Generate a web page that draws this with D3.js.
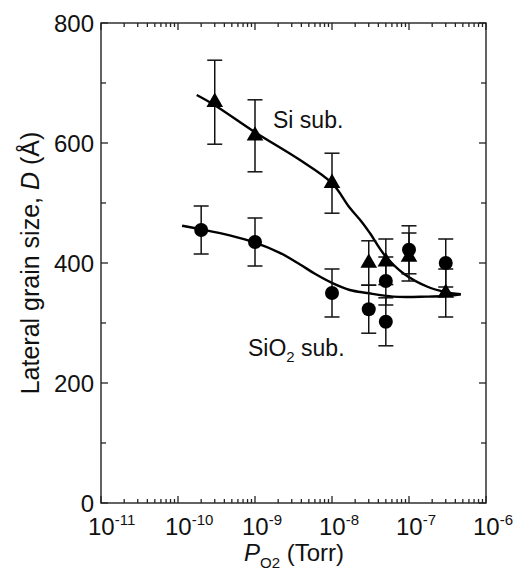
<!DOCTYPE html>
<html>
<head>
<meta charset="utf-8">
<script src="https://cdn.jsdelivr.net/npm/d3@7"></script>
<style>
  body { margin: 0; background: #fff; }
  text { font-family: "Liberation Sans", Arial, Helvetica, sans-serif; fill: #111; }
</style>
</head>
<body>
<div class="svg-container"></div>
<script>
// data
const siPressure = [3e-10, 1e-9, 1e-8, 3e-8, 5e-8, 1e-7, 3e-7];
const siSize = [668, 612, 533, 400, 402, 410, 350];
const siErr = [70, 60, 50, 37, 38, 40, 40];

const sio2Pressure = [2e-10, 1e-9, 1e-8, 3e-8, 5e-8, 5e-8, 1e-7, 3e-7];
const sio2Size = [455, 435, 350, 323, 302, 370, 422, 400];
const sio2Err = [40, 40, 40, 40, 40, 40, 40, 40];

// fitted guide curves
const siFitP = [1.75e-10, 3e-10, 1e-9, 3.8e-9, 1e-8, 1.7e-8, 2.45e-8, 3.1e-8, 4.9e-8, 8.4e-8, 1.77e-7, 2.9e-7, 4.7e-7];
const siFitD = [680, 663, 618, 572, 533, 492, 468, 450, 412, 383, 360, 352, 348];
const sio2FitP = [1.13e-10, 2e-10, 4.7e-10, 1e-9, 2.1e-9, 3.8e-9, 6e-9, 1.03e-8, 1.7e-8, 2.85e-8, 6.2e-8, 1.7e-7, 2.9e-7, 4.7e-7];
const sio2FitD = [462, 456, 446, 434, 417, 398, 382, 366, 355, 350, 344, 344, 345, 348];

const xTickExp = [-11, -10, -9, -8, -7, -6];
const yTicks = [0, 200, 400, 600, 800];

const width = 520;
const height = 575;
const margin = { top: 23, right: 34, bottom: 72, left: 101 };
const innerW = width - margin.left - margin.right;
const innerH = height - margin.top - margin.bottom;

const svg = d3.select('.svg-container')
  .append('svg')
  .attr('width', width)
  .attr('height', height);

const x = d3.scaleLog().domain([1e-11, 1e-6]).range([margin.left, margin.left + innerW]);
const y = d3.scaleLinear().domain([0, 800]).range([margin.top + innerH, margin.top]);

// frame
svg.append('rect')
  .attr('x', margin.left)
  .attr('y', margin.top)
  .attr('width', innerW)
  .attr('height', innerH)
  .attr('fill', 'none')
  .attr('stroke', '#222')
  .attr('stroke-width', 1.4);

// ticks: all pointing inward, mirrored on top and right
const minorX = [];
for (let e = -11; e < -6; e++) {
  for (let m = 2; m <= 9; m++) minorX.push(m * Math.pow(10, e));
}
const majorX = xTickExp.map(e => Math.pow(10, e));
const yMinor = d3.range(100, 800, 200);

const ticks = svg.append('g').attr('stroke', '#222').attr('stroke-width', 1.3);
[[minorX, 4], [majorX, 7]].forEach(([vals, len]) => {
  vals.forEach(v => {
    ticks.append('line').attr('x1', x(v)).attr('x2', x(v))
      .attr('y1', y(0)).attr('y2', y(0) - len);
    ticks.append('line').attr('x1', x(v)).attr('x2', x(v))
      .attr('y1', y(800)).attr('y2', y(800) + len);
  });
});
[[yMinor, 5], [yTicks, 7]].forEach(([vals, len]) => {
  vals.forEach(v => {
    ticks.append('line').attr('y1', y(v)).attr('y2', y(v))
      .attr('x1', x(1e-11)).attr('x2', x(1e-11) + len);
    ticks.append('line').attr('y1', y(v)).attr('y2', y(v))
      .attr('x1', x(1e-6)).attr('x2', x(1e-6) - len);
  });
});

// y tick labels
svg.append('g').selectAll('text')
  .data(yTicks)
  .enter()
  .append('text')
  .attr('x', margin.left - 7)
  .attr('y', d => y(d) + 8.5)
  .attr('text-anchor', 'end')
  .style('font-size', '24px')
  .text(d => d);

// x tick labels 10^n
const xl = svg.append('g').selectAll('text')
  .data(xTickExp)
  .enter()
  .append('text')
  .attr('x', d => x(Math.pow(10, d)) - 13)
  .attr('y', 535)
  .style('font-size', '24px');
xl.append('tspan').text('10');
xl.append('tspan').attr('dy', -10).style('font-size', '15px').text(d => d);

// axis titles
const xt = svg.append('text')
  .attr('x', 294)
  .attr('y', 561)
  .attr('text-anchor', 'middle')
  .style('font-size', '24px');
xt.append('tspan').style('font-style', 'italic').text('P');
xt.append('tspan').attr('dy', 7).style('font-size', '15px').text('O2');
xt.append('tspan').attr('dy', -7).text(' (Torr)');

const yt = svg.append('text')
  .attr('transform', `translate(39, ${y(400)}) rotate(-90)`)
  .attr('text-anchor', 'middle')
  .style('font-size', '25px');
yt.append('tspan').text('Lateral grain size, ');
yt.append('tspan').style('font-style', 'italic').text('D');
yt.append('tspan').text(' (Å)');

// fit curves
const line = d3.line()
  .x(d => x(d[0]))
  .y(d => y(d[1]))
  .curve(d3.curveCatmullRom.alpha(0.5));

[[siFitP, siFitD], [sio2FitP, sio2FitD]].forEach(([ps, ds]) => {
  svg.append('path')
    .attr('d', line(ps.map((p, i) => [p, ds[i]])))
    .attr('fill', 'none')
    .attr('stroke', '#000')
    .attr('stroke-width', 2.4);
});

// error bars
const drawErr = (ps, ds, es) => {
  const g = svg.append('g').attr('stroke', '#111').attr('stroke-width', 1.5);
  ps.forEach((p, i) => {
    const cx = x(p);
    g.append('line').attr('x1', cx).attr('x2', cx)
      .attr('y1', y(ds[i] - es[i])).attr('y2', y(ds[i] + es[i]));
    [ds[i] - es[i], ds[i] + es[i]].forEach(v => {
      g.append('line').attr('x1', cx - 7.5).attr('x2', cx + 7.5)
        .attr('y1', y(v)).attr('y2', y(v));
    });
  });
};
drawErr(siPressure, siSize, siErr);
drawErr(sio2Pressure, sio2Size, sio2Err);

// markers
svg.append('g').selectAll('circle')
  .data(sio2Pressure)
  .enter()
  .append('circle')
  .attr('cx', d => x(d))
  .attr('cy', (d, i) => y(sio2Size[i]))
  .attr('r', 7)
  .attr('fill', '#000');

const tri = d3.symbol().type(d3.symbolTriangle).size(120);
svg.append('g').selectAll('path')
  .data(siPressure)
  .enter()
  .append('path')
  .attr('d', tri)
  .attr('transform', (d, i) => `translate(${x(d)}, ${y(siSize[i])})`)
  .attr('fill', '#000');

// series labels
svg.append('text')
  .attr('x', 273)
  .attr('y', 128)
  .style('font-size', '23px')
  .text('Si sub.');

const sl = svg.append('text')
  .attr('x', 248)
  .attr('y', 356)
  .style('font-size', '23px');
sl.append('tspan').text('SiO');
sl.append('tspan').attr('dy', 6).style('font-size', '15px').text('2');
sl.append('tspan').attr('dy', -6).text(' sub.');
</script>
</body>
</html>
